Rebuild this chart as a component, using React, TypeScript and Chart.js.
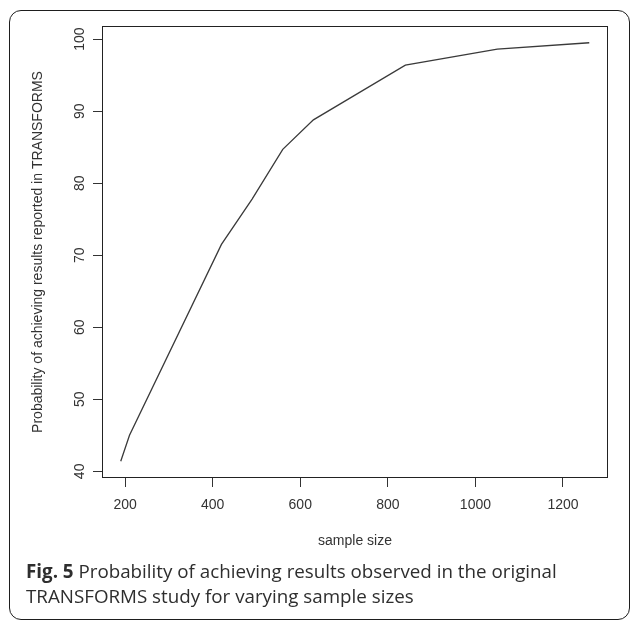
import React, { useEffect, useLayoutEffect, useRef } from 'react';
import { Chart, registerables } from 'chart.js';

Chart.register(...registerables);

// ---- data ----
const sampleSizes = [190, 210, 420, 490, 560, 630, 840, 1050, 1260];
const probability = [41.4, 45.0, 71.5, 77.8, 84.7, 88.8, 96.4, 98.6, 99.5];
const xTicks = [200, 400, 600, 800, 1000, 1200];
const yTicks = [40, 50, 60, 70, 80, 90, 100];
const xTitle = 'sample size';
const yTitle = 'Probability of achieving results reported in TRANSFORMS';
const captionBold = 'Fig. 5';
const captionLine1 = ' Probability of achieving results observed in the original';
const captionLine2 = 'TRANSFORMS study for varying sample sizes';

// R-style 4% axis extension
function extRange(vals: number[]) {
  const lo = Math.min(...vals);
  const hi = Math.max(...vals);
  const d = (hi - lo) * 0.04;
  return [lo - d, hi + d];
}

const axisFont = { family: '"Liberation Sans", Arial, Helvetica, sans-serif', size: 14 };
const inkColor = '#333333';

const boxPlugin = {
  id: 'rbox',
  afterDraw(chart: any) {
    const { ctx, chartArea: a } = chart;
    ctx.save();
    ctx.strokeStyle = '#222222';
    ctx.lineWidth = 1;
    const l = Math.round(a.left) + 0.5;
    const t = Math.round(a.top) + 0.5;
    const r = Math.round(a.right) - 0.5;
    const b = Math.round(a.bottom) - 0.5;
    ctx.strokeRect(l, t, r - l, b - t);
    ctx.restore();
  },
};

export default function App() {
  const canvasRef = useRef<HTMLCanvasElement | null>(null);
  const capRef = useRef<HTMLDivElement | null>(null);
  const line1Ref = useRef<HTMLSpanElement | null>(null);

  useLayoutEffect(() => {
    const cap = capRef.current;
    const l1 = line1Ref.current;
    if (!cap || !l1) return;
    const base = 18;
    cap.style.fontSize = base + 'px';
    const w = l1.getBoundingClientRect().width;
    if (w > 0) cap.style.fontSize = (base * 531) / w + 'px';
  }, []);

  useEffect(() => {
    const canvas = canvasRef.current;
    if (!canvas) return;
    const [xMin, xMax] = extRange(sampleSizes);
    const [yMin, yMax] = extRange(probability);
    const chart = new Chart(canvas, {
      type: 'line',
      data: {
        datasets: [
          {
            data: sampleSizes.map((x, i) => ({ x, y: probability[i] })),
            borderColor: '#3a3a3a',
            borderWidth: 1.3,
            pointRadius: 0,
            tension: 0,
            fill: false,
          },
        ],
      },
      options: {
        animation: false,
        responsive: false,
        devicePixelRatio: 1,
        layout: { padding: { top: 26, right: 22, left: 0, bottom: 0 } },
        plugins: { legend: { display: false }, tooltip: { enabled: false } },
        scales: {
          x: {
            type: 'linear',
            min: xMin,
            max: xMax,
            afterBuildTicks: (s: any) => {
              s.ticks = xTicks.map((v) => ({ value: v }));
            },
            afterFit: (s: any) => {
              s.height = 82;
            },
            grid: { drawOnChartArea: false, drawTicks: true, tickLength: 9, color: inkColor, lineWidth: 1 },
            border: { display: false },
            ticks: {
              padding: 10,
              color: inkColor,
              font: axisFont,
              maxRotation: 0,
              autoSkip: false,
              callback: (v: any) => String(v),
            },
            title: { display: true, text: xTitle, color: inkColor, font: axisFont, padding: { top: 0, bottom: 10 } },
          },
          y: {
            type: 'linear',
            min: yMin,
            max: yMax,
            afterBuildTicks: (s: any) => {
              s.ticks = yTicks.map((v) => ({ value: v }));
            },
            afterFit: (s: any) => {
              s.width = 102;
            },
            grid: { drawOnChartArea: false, drawTicks: true, tickLength: 9, color: inkColor, lineWidth: 1 },
            border: { display: false },
            ticks: {
              minRotation: 90,
              maxRotation: 90,
              crossAlign: 'center',
              padding: 1,
              color: inkColor,
              font: axisFont,
              autoSkip: false,
              callback: (v: any) => String(v),
            },
            title: { display: true, text: yTitle, color: inkColor, font: axisFont, padding: { top: 29.6, bottom: 0 } },
          },
        },
      } as any,
      plugins: [boxPlugin],
    });
    return () => chart.destroy();
  }, []);

  return (
    <div
      style={{
        position: 'absolute',
        left: 0,
        top: 0,
        width: 630,
        height: 620,
        background: '#ffffff',
        overflow: 'hidden',
      }}
    >
      <div
        style={{
          position: 'absolute',
          left: 9,
          top: 10,
          width: 621,
          height: 610,
          boxSizing: 'border-box',
          border: '1.5px solid #1e1e1e',
          borderRadius: 12,
        }}
      />
      <canvas ref={canvasRef} width={630} height={560} style={{ position: 'absolute', left: 0, top: 0 }} />
      <div
        ref={capRef}
        style={{
          position: 'absolute',
          left: 26,
          top: 558,
          lineHeight: '25px',
          fontFamily: '"Open Sans", "Noto Sans", sans-serif',
          fontStretch: '94%',
          fontWeight: 400,
          color: '#2e2e2e',
          whiteSpace: 'nowrap',
          fontSize: 18,
        }}
      >
        <span ref={line1Ref} style={{ display: 'inline-block' }}>
          <b style={{ fontWeight: 700 }}>{captionBold}</b>
          {captionLine1}
        </span>
        <br />
        <span>{captionLine2}</span>
      </div>
    </div>
  );
}
